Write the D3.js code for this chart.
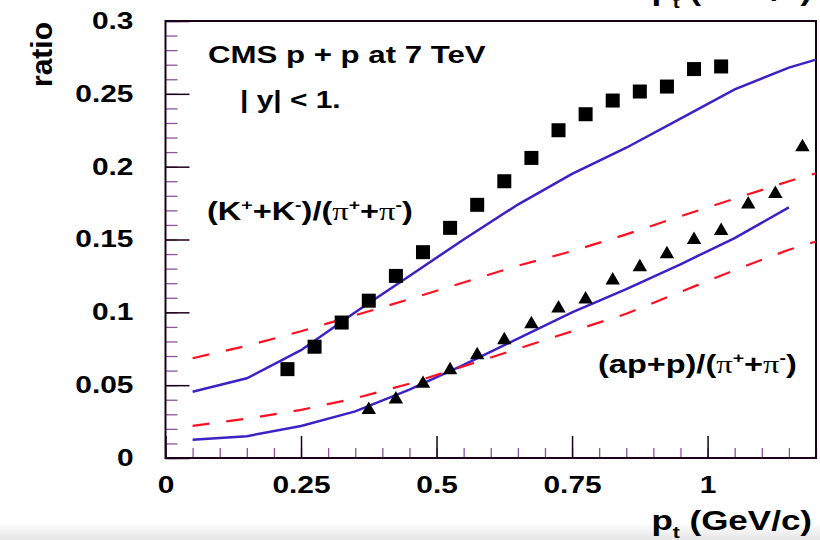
<!DOCTYPE html>
<html>
<head>
<meta charset="utf-8">
<script src="https://cdn.jsdelivr.net/npm/d3@7"></script>
<style>
  body { margin: 0; background: #fff; }
  svg text { font-family: "Liberation Sans", Arial, sans-serif; font-weight: bold; fill: #000; }
</style>
</head>
<body>
<svg id="chart" width="820" height="540"></svg>
<script>
// data
var ptData = [0.225, 0.275, 0.325, 0.375, 0.425, 0.475, 0.525, 0.575, 0.625, 0.675, 0.725, 0.775, 0.825, 0.875, 0.925, 0.975, 1.025];
var kpiData = [0.061, 0.0764, 0.093, 0.108, 0.125, 0.1413, 0.158, 0.1738, 0.190, 0.206, 0.225, 0.236, 0.2454, 0.2516, 0.255, 0.267, 0.2688];

var ptDataP = [0.375, 0.425, 0.475, 0.525, 0.575, 0.625, 0.675, 0.725, 0.775, 0.825, 0.875, 0.925, 0.975, 1.025, 1.075, 1.125, 1.175];
var ppiData = [0.033, 0.0403, 0.051, 0.0604, 0.0707, 0.081, 0.092, 0.1028, 0.109, 0.122, 0.131, 0.140, 0.1497, 0.156, 0.1742, 0.1813, 0.2134];

var ptModel = [0.05, 0.15, 0.25, 0.35, 0.45, 0.55, 0.65, 0.75, 0.85, 0.95, 1.05, 1.15, 1.2];
var kpiSolid = [0.0455, 0.0547, 0.074, 0.100, 0.125, 0.150, 0.174, 0.195, 0.213, 0.233, 0.253, 0.268, 0.2735];
var kpiDashed = [0.0685, 0.077, 0.087, 0.098, 0.109, 0.1205, 0.132, 0.142, 0.1535, 0.166, 0.178, 0.190, 0.1955];
var ptModelP = [0.05, 0.15, 0.25, 0.35, 0.45, 0.55, 0.65, 0.75, 0.85, 0.95, 1.05, 1.15];
var ppiSolid = [0.0125, 0.015, 0.022, 0.032, 0.047, 0.064, 0.082, 0.100, 0.116, 0.133, 0.151, 0.172];
var ppiDashed = [0.022, 0.027, 0.033, 0.041, 0.051, 0.063, 0.075, 0.087, 0.099, 0.114, 0.129, 0.143, 0.1486];

var xMajor = [0, 0.25, 0.5, 0.75, 1];
var yMajor = [0, 0.05, 0.1, 0.15, 0.2, 0.25, 0.3];

var margin = { top: 21, left: 165.5, right: 4, bottom: 82 },
    width = 820 - margin.left - margin.right,
    height = 540 - margin.top - margin.bottom,
    stretch = 1.3; // the picture's lettering is wide

var svg = d3.select("#chart");

// light grey band at the very bottom
var grad = svg.append("defs").append("linearGradient")
  .attr("id", "band").attr("x1", 0).attr("y1", 0).attr("x2", 0).attr("y2", 1);
grad.append("stop").attr("offset", "0%").attr("stop-color", "#fff");
grad.append("stop").attr("offset", "100%").attr("stop-color", "#e6e6e6");
svg.append("rect").attr("x", 0).attr("y", 522).attr("width", 820).attr("height", 18).attr("fill", "url(#band)");

var x = d3.scaleLinear().domain([0, 1.2]).range([0, width]);
var y = d3.scaleLinear().domain([0, 0.3]).range([height, 0]);

var g = svg.append("g").attr("transform", "translate(" + margin.left + "," + margin.top + ")");

var fmt = function (d) { return String(+d.toFixed(2)); };

// minor ticks
g.append("g").attr("class", "minor")
  .call(d3.axisLeft(y).tickValues(d3.range(0, 0.3001, 0.01)).tickSizeInner(-12).tickSizeOuter(0).tickFormat(""));
g.append("g").attr("class", "minor").attr("transform", "translate(0," + height + ")")
  .call(d3.axisBottom(x).tickValues(d3.range(0, 1.2001, 0.05)).tickSizeInner(-10).tickSizeOuter(0).tickFormat(""));

// major ticks + labels
g.append("g").attr("class", "major")
  .call(d3.axisLeft(y).tickValues(yMajor).tickSizeInner(-24).tickSizeOuter(0).tickPadding(32).tickFormat(fmt));
g.append("g").attr("class", "major").attr("transform", "translate(0," + height + ")")
  .call(d3.axisBottom(x).tickValues(xMajor).tickSizeInner(-22).tickSizeOuter(0).tickPadding(19).tickFormat(fmt));

g.selectAll(".domain").remove();
g.selectAll(".minor line").attr("stroke", "#8e52a0").attr("stroke-width", 1.3);
g.selectAll(".major line").attr("stroke", "#1a001a").attr("stroke-width", 1.5);
g.selectAll(".major text").each(function () {
  var t = d3.select(this);
  var tx = +t.attr("x") || 0;
  t.attr("x", 0)
    .attr("transform", "translate(" + tx + ",0) scale(" + stretch + ",1)")
    .attr("font-size", 23).attr("font-weight", "bold")
    .attr("font-family", "Liberation Sans, Arial, sans-serif").attr("fill", "#000");
});

// frame
g.append("rect").attr("width", width).attr("height", height)
  .attr("fill", "none").attr("stroke", "#1a001a").attr("stroke-width", 2);

var line = d3.line().x(function (d) { return x(d[0]); }).y(function (d) { return y(d[1]); });

function drawCurve(xs, ys, color, dash) {
  g.append("path")
    .datum(d3.zip(xs, ys))
    .attr("d", line)
    .attr("fill", "none")
    .attr("stroke", color)
    .attr("stroke-width", dash ? 2.2 : 2.5)
    .attr("stroke-dasharray", dash ? "17,17" : null);
}

drawCurve(ptModel, kpiSolid, "#3b22c6", false);
drawCurve(ptModelP, ppiSolid, "#3b22c6", false);
drawCurve(ptModel, kpiDashed, "#ff1020", true);
drawCurve(ptModel, ppiDashed, "#ff1020", true);

// squares
g.selectAll(".sq").data(d3.zip(ptData, kpiData)).enter().append("rect")
  .attr("class", "sq")
  .attr("x", function (d) { return x(d[0]) - 7; })
  .attr("y", function (d) { return y(d[1]) - 7; })
  .attr("width", 14).attr("height", 14)
  .attr("fill", "#000");

// triangles
var tri = d3.symbol().type(d3.symbolTriangle).size(90);
g.selectAll(".tri").data(d3.zip(ptDataP, ppiData)).enter().append("path")
  .attr("class", "tri")
  .attr("d", tri)
  .attr("transform", function (d) { return "translate(" + x(d[0]) + "," + y(d[1]) + ")"; })
  .attr("fill", "#000");

// text with super/subscripts, stretched sideways
function richText(parent, px, py, size, pieces, anchor, sx) {
  var t = parent.append("text")
    .attr("transform", "translate(" + px + "," + py + ") scale(" + (sx || stretch) + ",1)")
    .attr("font-size", size)
    .attr("text-anchor", anchor || "start");
  var shift = 0;
  pieces.forEach(function (p) {
    var s = t.append("tspan").text(p.t);
    var target = p.sup ? -size * 0.4 : (p.sub ? size * 0.3 : 0);
    s.attr("dy", target - shift);
    shift = target;
    if (p.sup || p.sub) s.attr("font-size", size * 0.6);
    if (p.greek) s.attr("font-family", "Liberation Serif, serif").attr("font-weight", "normal");
  });
  return t;
}

richText(svg, 208, 63, 24, [{ t: "CMS p + p at 7 TeV" }], "start", 1.3);
richText(svg, 240, 108, 23, [{ t: "| y| < 1." }]);

richText(svg, 207, 220, 25, [
  { t: "(K" }, { t: "+", sup: true }, { t: "+K" }, { t: "-", sup: true }, { t: ")/(" },
  { t: "\u03c0", greek: true }, { t: "+", sup: true }, { t: "+" },
  { t: "\u03c0", greek: true }, { t: "-", sup: true }, { t: ")" }
]);
richText(svg, 598, 373, 25, [
  { t: "(ap+p)/(" },
  { t: "\u03c0", greek: true }, { t: "+", sup: true }, { t: "+" },
  { t: "\u03c0", greek: true }, { t: "-", sup: true }, { t: ")" }
]);

// axis titles
svg.append("text").attr("transform", "translate(52,22) rotate(-90)")
  .attr("text-anchor", "end").attr("font-size", 30).text("ratio");

var xTitle = [{ t: "p" }, { t: "t", sub: true }, { t: " (GeV/c)" }];
richText(svg, 812, 530, 28, xTitle, "end", 1.25);
richText(svg, 812, 0, 28, xTitle, "end", 1.25);
</script>
</body>
</html>
